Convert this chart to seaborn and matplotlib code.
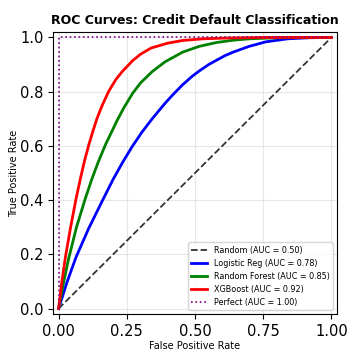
import matplotlib
matplotlib.use('Agg')
import matplotlib.pyplot as plt
import seaborn as sns

# ROC points
fpr_random = [0.0, 1.0]
tpr_random = [0.0, 1.0]

fpr_logreg = [0.0, 0.03, 0.064, 0.11, 0.16, 0.2, 0.235, 0.27, 0.305, 0.343, 0.39, 0.42, 0.455, 0.49,
              0.515, 0.55, 0.577, 0.61, 0.64, 0.698, 0.76, 0.84, 0.92, 1.0]
tpr_logreg = [0.0, 0.095, 0.19, 0.295, 0.397, 0.477, 0.54, 0.598, 0.65, 0.70, 0.757, 0.79, 0.826, 0.857,
              0.876, 0.9, 0.915, 0.933, 0.946, 0.967, 0.984, 0.995, 0.999, 1.0]

fpr_rf = [0.0, 0.018, 0.037, 0.065, 0.096, 0.121, 0.145, 0.172, 0.215, 0.24, 0.272, 0.30, 0.343, 0.39,
          0.455, 0.515, 0.577, 0.64, 0.70, 0.80, 0.9, 1.0]
tpr_rf = [0.0, 0.095, 0.185, 0.298, 0.40, 0.475, 0.54, 0.605, 0.695, 0.742, 0.795, 0.832, 0.874, 0.91,
          0.946, 0.967, 0.981, 0.99, 0.995, 0.999, 1.0, 1.0]

fpr_xgb = [0.0, 0.012, 0.025, 0.044, 0.064, 0.08, 0.095, 0.111, 0.125, 0.141, 0.16, 0.184, 0.21, 0.233,
           0.272, 0.30, 0.339, 0.40, 0.455, 0.53, 0.62, 0.75, 1.0]
tpr_xgb = [0.0, 0.1, 0.19, 0.30, 0.405, 0.48, 0.545, 0.605, 0.652, 0.702, 0.75, 0.802, 0.845, 0.874,
           0.915, 0.938, 0.961, 0.979, 0.989, 0.995, 0.998, 1.0, 1.0]

fpr_perfect = [0.0, 0.0, 1.0]
tpr_perfect = [0.0, 1.0, 1.0]

labels = ['Random (AUC = 0.50)', 'Logistic Reg (AUC = 0.78)', 'Random Forest (AUC = 0.85)',
          'XGBoost (AUC = 0.92)', 'Perfect (AUC = 1.00)']

fig, ax = plt.subplots(figsize=(3.52, 3.52), dpi=100)
fig.subplots_adjust(left=0.151, right=0.957, bottom=0.108, top=0.909)

sns.lineplot(x=fpr_random, y=tpr_random, ax=ax, color='black', linestyle='--', lw=1.3, alpha=0.8, label=labels[0], sort=False, estimator=None)
sns.lineplot(x=fpr_logreg, y=tpr_logreg, ax=ax, color='blue', lw=2, label=labels[1], sort=False, estimator=None)
sns.lineplot(x=fpr_rf, y=tpr_rf, ax=ax, color='green', lw=2, label=labels[2], sort=False, estimator=None)
sns.lineplot(x=fpr_xgb, y=tpr_xgb, ax=ax, color='red', lw=2, label=labels[3], sort=False, estimator=None)
sns.lineplot(x=fpr_perfect, y=tpr_perfect, ax=ax, color='purple', linestyle=':', lw=1.2, label=labels[4], sort=False, estimator=None)

ax.set_xlim(-0.02, 1.02)
ax.set_ylim(-0.02, 1.02)
ax.set_xticks([0, 0.25, 0.5, 0.75, 1.0])
ax.set_yticks([0, 0.2, 0.4, 0.6, 0.8, 1.0])
ax.tick_params(labelsize=10.5)
ax.grid(True, alpha=0.3)
ax.set_xlabel('False Positive Rate', fontsize=7, labelpad=1.5)
ax.set_ylabel('True Positive Rate', fontsize=7, labelpad=0.5)
ax.set_title('ROC Curves: Credit Default Classification', fontsize=9, fontweight='bold')
ax.legend(loc='lower right', fontsize=5.8)

plt.savefig('out.png', dpi=100)
